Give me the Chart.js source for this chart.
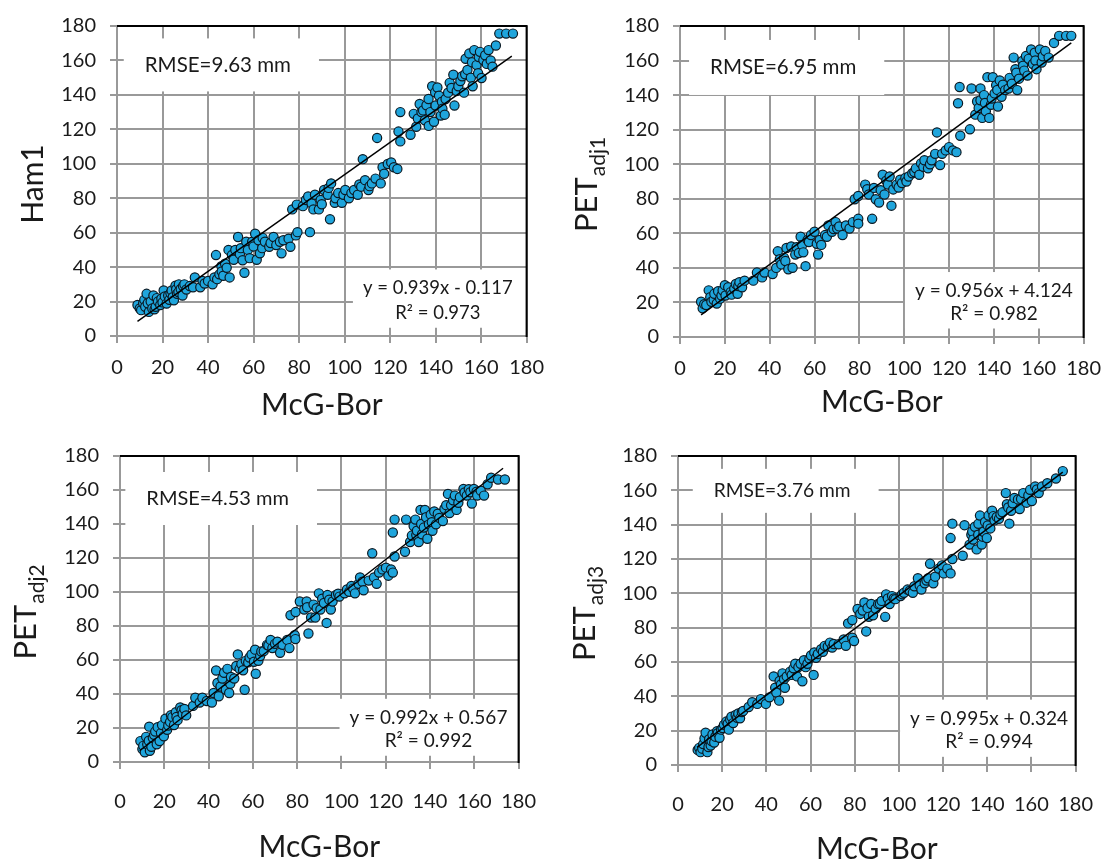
<!DOCTYPE html>
<html>
<head>
<meta charset="utf-8">
<script src="https://cdn.jsdelivr.net/npm/chart.js@4.4.1/dist/chart.umd.min.js"></script>
<style>
  body { margin: 0; background: #fff; }
  #wrap { position: relative; width: 1114px; height: 861px; overflow: hidden; }
  canvas { position: absolute; }
</style>
</head>
<body>
<div id="wrap">
  <canvas id="c1" width="557" height="430" style="left:0;top:0"></canvas>
  <canvas id="c2" width="557" height="430" style="left:557px;top:0"></canvas>
  <canvas id="c3" width="557" height="431" style="left:0;top:430px"></canvas>
  <canvas id="c4" width="557" height="431" style="left:557px;top:430px"></canvas>
</div>
<script>
// McG-Bor (x) vs. the four PET estimates (y)
var ham1Pts = [[9,18],[10,16],[10.6,15],[11.5,19],[12,21],[12.4,17],[13,24.5],[13.5,19],[14,14],[14.8,20],[15.5,16],[16,23.5],[16.5,15.5],[17,17],[17.5,22],[18,20],[19,18],[19.5,21.7],[20,19.5],[20.5,26.4],[21,23],[21.8,18.8],[22.5,23.5],[23,21],[23.5,24.8],[24,26.4],[24.5,22.5],[25,20.7],[25.7,29.2],[26,27],[26.4,24.5],[27,25.5],[27.2,30],[28,27.3],[28.8,23.5],[29,29],[29.6,30],[30.5,27],[32,29],
  [33.4,28.3],[34.2,34],[36.6,28.3],[37.6,32],[38.5,30.5],[40,32],[42,30],[42.8,34],[43.5,47],[44,33],[45,35.8],[45.9,40.5],[46,37.5],[46.7,35],[47.5,42],[48.2,39.6],[49,50],[49.5,34],[50.5,47],[51.3,44.3],[52,50],[53.2,57.5],[54,47.5],[54.4,51],[55.2,44],[56,36.7],[56.8,54.7],[57.5,50],[58.3,45.2],[59.4,54.7],[60,52],[60.7,59.4],[61.4,44.3],[62.2,55.6],[62.8,48],[63.8,51],[64,57],[65,54.7],[66.9,51.8],[67.5,54],[68.8,57.5],[70,52.8],[71.6,54.7],[72.3,48],[73.1,55.6],[75.4,56.5],[76.2,51.8],[78.6,58.4],[79.3,60.3],
  [77,73.5],[79,76.3],[81.7,75.4],[83,79],[84,81],[84.8,60.3],[85.5,77],[86.3,73.5],[87,82],[88.7,73.5],[89.5,79],[90,76.5],[91,84.8],[92.6,82],[93,86],[93.6,67.8],[94.1,88.6],[95.7,77.3],[96,80],[97.2,83],[98.8,77.3],[99.5,82],[100.3,84.8],[101.9,80],[103,83],[104.2,84.8],[105.8,82],[106.5,88],[107.3,86.7],[108,102.7],[109,90.5],[110.5,84.8],[111,87],[112,88.6],[113.6,91.4],[114.3,115],[115.9,88.6],[116.7,98],[117.4,94.2],[119,99.9],[120.5,100.8],[121.7,98],[123.2,97],[123.7,118.7],[124.5,113],[124.5,130],
  [129,116.8],[130.4,129],[131.5,121.5],[132.2,126.3],[133,134.7],[133.8,130],[134.5,131],[135.3,125.3],[136,134],[136.9,137.6],[137,122],[137.7,130],[138.5,145],[139.3,124.4],[139.8,141.5],[140,133.8],[140.8,144.3],[141.5,139.5],[142.3,128],[142.8,136],[143,132],[144,128.5],[144.4,137.6],[145.5,141.3],[146.2,147],[147,144],[147.8,151.7],[148.3,133.8],[149.3,142.3],[150,145],[150.9,148],[151.7,150.8],[152.5,141.3],[153,152],[153.2,161],[154,154.5],[154.8,164],[155.5,150],[156,159],[156.3,145],[157,166],[158,157.3],[158.7,152.6],[159,162],[159.5,165],[160.2,149.8],[161,160.2],[161.8,163],[162.5,158],[163.3,166],[164.2,160],[165,156.4],[166.5,168.7],[168,175.6],[171,175.6],[174,175.6]];

var adj1Pts = [[9.4,20.4],[10.1,16.6],[10.8,19],[11.7,18.5],[12.8,27],[13.5,23],[14,20.4],[15,21.5],[15.3,25],[16.4,19.4],[17,26.5],[17.9,22.2],[18.5,24],[19,27],[20,30],[20.3,24],[21.5,28.8],[22.6,26],[23,24.5],[24.2,27.9],[24.9,30.7],[25.7,25],[26,29.5],[26.5,31.7],[27.7,28.8],[28.8,32.6],
  [32.7,32.6],[34.3,37.3],[36.6,34.5],[37.7,37.3],[41.3,36.4],[42.9,40],[43.6,49.6],[44.5,45],[45.2,42],[46.4,45.8],[47,44],[47.5,51.5],[48.3,39.2],[49.6,52.4],[50.2,40.1],[51.4,47.7],[52,52],[53,48.6],[53.8,58],[54.5,53.3],[55,49],[56,41],[56.9,56.2],[57.5,55],[58.4,59],[60,60.9],[61,54],[61.6,47.7],[62.3,56.2],[63,53.3],[64.7,59],[65.5,58],[66.2,64.6],[67.8,60.9],[68.5,62.5],[69.4,66.5],[70.1,62.8],[71,64],[72.5,59],[74,64.6],[75.6,62.8],[77.1,66.5],[79.5,68.4],[79.5,65.6],
  [77.9,79.7],[79.5,81.6],[82.6,88.2],[83.5,85.5],[84.2,82.5],[85.7,68.4],[86.5,86.3],[87.3,79.7],[88.8,77.8],[89.5,85],[90.4,93.9],[91.2,82.5],[92,90.5],[92.7,88.2],[93.5,92.9],[94.3,76],[95.1,85.4],[96.6,88.2],[97.5,86.5],[98.2,91],[99,89.1],[100.5,92],[101,90],[102,92.9],[103.6,94.8],[104.5,95.5],[105.2,97.6],[106.7,93.9],[107.5,100.5],[108.5,98.5],[109,102.3],[110.6,97.6],[111.5,100],[112.2,102.3],[113.8,106],[114.6,118.4],[116,99.5],[116.9,106],[118.5,108],[120,109.9],[121.7,108],[123.3,107],[124,135.3],[124.7,144.7],[125,116.5],[129.3,120.2],[130,143.8],
  [131.7,128.7],[132.5,136.3],[133.2,132.5],[134,143.8],[134,137],[134.8,126.8],[135.6,140],[136,135.5],[136.4,130.6],[137.1,150.4],[137.9,126.8],[138.7,134.4],[139,138],[139.5,150.4],[140.3,141],[141,145.7],[141.5,143],[141.8,133.4],[142.6,148.5],[143.4,139],[144,146],[145,142.9],[146.5,143.8],[147,150],[148,146.6],[148.8,161.7],[149.6,155],[150,153],[150.4,142.9],[151.2,149.5],[152.7,159.8],[153,157],[153.5,154.2],[154.3,162.6],[155,151.3],[155.5,161],[156.6,166.4],[157.4,158],[158.2,164.5],[158.5,160],[159,155],[160.5,166.4],[161.3,158.9],[161.8,162.5],[162.9,165.5],[164.4,161.7],[166.8,170.2],[169.1,174.3],[172.2,174.3],[174.5,174.3]];

var adj2Pts = [[9.2,12.3],[10.1,7.6],[10.5,9.5],[11.2,5.7],[11.8,14.8],[12.3,10.4],[13,12.5],[13.2,20.8],[13.5,6.6],[14.2,9],[14.8,14.2],[15.4,16],[15.9,17.9],[16.6,10.4],[17,20.5],[17.9,12.3],[18.5,17],[19,21.7],[19.8,15.1],[20.5,25.5],[21.3,18.9],[21.8,21.5],[22.6,23.6],[23,27.5],[23.6,26.4],[24.4,21.7],[25.2,29.3],[25.5,26.5],[26,24.6],[27.2,32.1],[27.8,30.5],[28.3,28.3],[29.1,31.2],[29.9,27.4],
  [33,33],[34,37.8],[36,35],[37.2,37.8],[39.2,35.9],[41.5,35],[42.3,40.6],[43.4,53.8],[44,46.5],[44.6,38.7],[45.4,44.4],[46.2,49.1],[47,52.5],[47.8,42.5],[48.5,54.8],[49.3,40.6],[49.8,46],[50.1,50],[51.6,49.1],[52.5,56.5],[53.2,63.3],[54,54.8],[54.8,57.6],[55.6,54],[56.3,42.5],[56.8,59.5],[57.9,58.6],[58.5,61.5],[59.4,63.3],[60.5,59],[61,66.1],[61.3,51.9],[62.5,59.5],[63.3,62.3],[63.8,65],[64.9,65.2],[66.4,68.9],[67,68.5],[68,71.8],[68.8,67],[70,69.5],[71.1,70.8],[72.3,64.2],[73.4,68.9],[75.5,71.8],[76.5,67],[78.9,74.6],[79.2,72.3],[77,86.3],[79.3,88.2],
  [81.2,94.4],[83.2,89.7],[84.3,94.4],[84.5,91],[85.1,75.6],[86.3,85],[87.4,92.6],[88.2,85],[88.8,90.5],[89.8,99.2],[90.5,89.7],[91.3,96],[92.1,93.5],[93.3,81.8],[93.7,98.2],[94.5,95.5],[95.2,89.7],[96,94.4],[97.5,98.2],[98.5,99],[99.1,97.3],[101.4,99.2],[102.5,101.5],[103.5,100.1],[104.5,103.5],[105.3,102],[106.1,99.2],[107.7,104.8],[108.4,108.6],[109.5,106],[110,101],[112.3,106.7],[113.9,122.8],[114.7,108.6],[115.9,104.8],[117,111.4],[118.5,113.3],[120.1,114.3],[121.2,109.6],[122.4,113.3],[123.2,111.4],[123.2,135],[124,142.6],[124,120.9],[128.7,123.7],[129.2,142.6],
  [131,129.4],[131.8,133.2],[132.6,138.8],[133.4,142.6],[133.8,133.5],[134.1,136],[134.9,129.4],[135.7,148.3],[136,140],[136.4,134],[137.2,137.9],[137.7,148.3],[138.2,144],[138.8,131.3],[139.5,139.8],[140.3,145.5],[140.8,141],[141.1,136],[141.9,147.4],[142.7,139.8],[143.5,146],[144.2,143.6],[145.8,141.7],[146.5,149],[147.3,151.1],[148.1,157.7],[148.8,146.4],[149.5,151],[150.4,153.9],[151.2,156.7],[152,148.3],[152.8,152.5],[153.5,155.8],[155.1,160.6],[155.6,158.5],[156.6,156.7],[157.5,160.5],[158.2,158.7],[158.9,152],[159.8,160.6],[161,159],[161.3,156.7],[162.9,159.6],[164.4,156.7],[166,163.4],[167.6,167.2],[170.7,166.2],[173.8,166.2]];

var adj3Pts = [[8.9,8.8],[9.6,10],[10.2,7.5],[11,9.5],[11.4,12.2],[12,15.5],[12.5,18.8],[13.3,7.5],[13.8,10.5],[14.1,15],[14.8,11.3],[15.2,14],[15.6,17.8],[16.4,13.1],[16.9,16.5],[17.7,19.7],[18,18.5],[18.8,15.9],[19.5,20.6],[20.2,21.5],[20.8,23.4],[21.9,25.3],[22.5,24],[23,20.6],[23.6,26.5],[24.2,28.1],[25,24.4],[26.1,29.1],[26.8,27.5],[27.3,30],[28.1,27.2],[28.9,30.9],[29.5,31.5],
  [32,33.8],[33.6,36.6],[35.9,35.6],[37.5,38.4],[39.8,35.6],[41.4,39.4],[43.3,51.6],[44,45],[44.5,42.2],[45.8,37.5],[46,49],[46.6,46.9],[47.3,53.4],[48,50],[48.4,45],[49.2,51.6],[50.8,54.4],[51.5,52.5],[52.3,56.3],[53.1,59],[53.9,51.6],[54.5,57],[55.5,59],[56.3,48.8],[57,61],[57.8,57],[58.6,59],[59.5,62],[60.2,63.8],[61.4,52.5],[61.7,65.6],[62.5,62.5],[63.3,64.7],[64.8,67.5],[65.6,66],[66.4,69.4],[67.8,69],[68.8,71.3],[69.8,68.4],[70.5,70.5],[72.7,70.3],[75,73.1],[76,69.4],[77,82.5],[78.9,84.4],[78.9,74.1],[79.7,72.2],
  [81.3,90.9],[82.5,88],[83.6,90],[84.4,94.7],[85.2,77.8],[85.8,91.5],[86.4,86.3],[87.5,93.8],[88.3,87.2],[89.5,91],[90.6,93.8],[91.4,94],[92.2,95.6],[93.8,86.3],[94.2,99.4],[95,97],[95.8,93.8],[96.9,98.4],[97.7,97],[98.4,96.6],[100.8,98.4],[101.5,99.5],[102.3,100.3],[103.9,102.2],[105,101.5],[106.3,100.3],[107,104.1],[108.6,108.8],[109.4,104.5],[110.2,102.2],[111.7,105.9],[112.5,107.5],[113.3,108.8],[114.1,117.2],[115.6,105.9],[116.4,109.7],[118,114.4],[119.5,116.3],[120.3,111.6],[121.9,114.4],[123.4,111.6],[123.4,132.2],[124.2,140.6],[124.2,120],[128.9,121.9],[129.7,139.7],
  [132,128.4],[132.8,134.1],[133.2,136],[133.6,131.3],[134.4,138.8],[135.2,125.6],[135.9,134.1],[136,140.5],[136.7,145.3],[137.5,128.4],[137.9,133],[138.3,135.9],[139,141.6],[139.8,132.2],[140.2,139.5],[140.6,145.3],[141.4,137.8],[142.2,148.1],[142.8,145],[143.3,142.5],[144.3,144.5],[145.3,143.4],[146,146],[146.9,147.2],[148.4,158.4],[148.9,151.9],[149.5,150],[150,140.6],[150.8,148.1],[151.5,152.5],[152.3,155.6],[153.9,154.7],[154.7,149.1],[155.3,155],[156.3,158.4],[157.8,152.8],[158.6,157],[159.4,160.3],[160.2,153.8],[161.7,162.2],[162.5,160.5],[163.3,158.4],[164.8,162.2],[167.2,164.1],[171.1,166.9],[174.2,171.2]];

// trendline end points (x, y) as drawn
var ham1Trend = [[9, 8.5], [173.5, 162.5]];
var adj1Trend = [[9.4, 12.8], [174.5, 170.2]];
var adj2Trend = [[8.9, 6.6], [173, 172.8]];
var adj3Trend = [[8.6, 10.3], [174.2, 170.6]];

var axisTicks = [0, 20, 40, 60, 80, 100, 120, 140, 160, 180];

var GRID = '#999999';
var TXT = '#1a1a1a';

var panels = [
  { id: 'c1', pts: ham1Pts, trend: ham1Trend, yTitle: 'Ham1', ySub: '', yFont: 30,
    rmse: 'RMSE=9.63 mm', eq: ['y = 0.939x - 0.117', 'R² = 0.973'],
    padTop: 17, padRight: 26, yW: 117, xH: 94, xPad: 13,
    yTitleX: 43, xTitleY: 415, rmseAt: [12.2, 157.4], rmseSize: 20.5, eqSize: 18.5, rmseBoxH: 53, eqAt: [141, 27.6, 13.5] },
  { id: 'c2', pts: adj1Pts, trend: adj1Trend, yTitle: 'PET', ySub: 'adj1', yFont: 31,
    rmse: 'RMSE=6.95 mm', eq: ['y = 0.956x + 4.124', 'R² = 0.982'],
    padTop: 18, padRight: 20, yW: 123, xH: 93, xPad: 13,
    yTitleX: 40, xTitleY: 412, rmseAt: [13.4, 156], rmseSize: 20.5, eqSize: 19, rmseBoxH: 55, eqAt: [140, 26.6, 13.6] },
  { id: 'c3', pts: adj2Pts, trend: adj2Trend, yTitle: 'PET', ySub: 'adj2', yFont: 31,
    rmse: 'RMSE=4.53 mm', eq: ['y = 0.992x + 0.567', 'R² = 0.992'],
    padTop: 14, padRight: 22, yW: 120, xH: 99, xPad: 21,
    yTitleX: 36, xTitleY: 427, rmseAt: [11.9, 155], rmseSize: 20, eqSize: 19, rmseBoxH: 53, eqAt: [139.3, 26, 12.5] },
  { id: 'c4', pts: adj3Pts, trend: adj3Trend, yTitle: 'PET', ySub: 'adj3', yFont: 31,
    rmse: 'RMSE=3.76 mm', eq: ['y = 0.995x + 0.324', 'R² = 0.994'],
    padTop: 15, padRight: 25, yW: 121, xH: 96, xPad: 21,
    yTitleX: 38, xTitleY: 429, rmseAt: [16.2, 159.7], rmseSize: 19.2, eqSize: 19, rmseBoxH: 44, eqAt: [140.8, 27, 13.5] }
];

// text boxes, black top/right frame and axis titles
var deco = {
  id: 'deco',
  beforeDatasetsDraw: function(chart, args, o) {
    var ctx = chart.ctx, a = chart.chartArea;
    var sx = chart.scales.x, sy = chart.scales.y;
    ctx.save();

    // white boxes behind the labels
    ctx.fillStyle = '#fff';
    ctx.font = o.rmseSize + 'px Lato';
    var rx = sx.getPixelForValue(o.rmseAt[0]), ry = sy.getPixelForValue(o.rmseAt[1]);
    var rw = ctx.measureText(o.rmse).width;
    ctx.fillRect(rx - 21, ry - o.rmseBoxH / 2, rw + 49, o.rmseBoxH);
    ctx.font = o.eqSize + 'px Lato';
    var ex = sx.getPixelForValue(o.eqAt[0]);
    var e1 = sy.getPixelForValue(o.eqAt[1]), e2 = sy.getPixelForValue(o.eqAt[2]);
    var ew = ctx.measureText(o.eq[0]).width;
    var bl = ex - ew / 2 - 10;
    ctx.fillRect(bl, e1 - 19, a.right - bl, e2 - e1 + 34);

    ctx.fillStyle = TXT;
    ctx.textBaseline = 'middle';
    ctx.textAlign = 'left';
    ctx.font = o.rmseSize + 'px Lato';
    ctx.fillText(o.rmse, rx, ry);
    ctx.textAlign = 'center';
    ctx.font = o.eqSize + 'px Lato';
    ctx.fillText(o.eq[0], ex, e1);
    ctx.fillText(o.eq[1], ex, e2);

    ctx.strokeStyle = '#000';
    ctx.lineWidth = 2;
    ctx.beginPath();
    ctx.moveTo(a.left, a.top);
    ctx.lineTo(a.right, a.top);
    ctx.lineTo(a.right, a.bottom + 1);
    ctx.stroke();

    // x title
    ctx.textBaseline = 'alphabetic';
    ctx.font = '30px Lato';
    ctx.fillText('McG-Bor', (a.left + a.right) / 2, o.xTitleY);

    // y title, with subscript
    ctx.translate(o.yTitleX, (a.top + a.bottom) / 2 + 3);
    ctx.rotate(-Math.PI / 2);
    ctx.font = o.yFont + 'px Lato';
    var mw = ctx.measureText(o.yTitle).width;
    ctx.font = '21px Lato';
    var sw = o.ySub ? ctx.measureText(o.ySub).width + 1 : 0;
    var start = -(mw + sw) / 2;
    ctx.textAlign = 'left';
    ctx.font = o.yFont + 'px Lato';
    ctx.fillText(o.yTitle, start, 0);
    if (o.ySub) {
      ctx.font = '21px Lato';
      ctx.fillText(o.ySub, start + mw + 1, 8);
    }
    ctx.restore();
  }
};

Chart.defaults.font.family = 'Lato';
Chart.defaults.color = TXT;

panels.forEach(function(p) {
  var pts = p.pts.map(function(d) { return { x: d[0], y: d[1] }; });
  var line = p.trend.map(function(d) { return { x: d[0], y: d[1] }; });

  var axis = function(pad, fit) {
    return {
      type: 'linear',
      min: 0,
      max: 180,
      afterBuildTicks: function(s) { s.ticks = axisTicks.map(function(v) { return { value: v }; }); },
      ticks: { padding: pad, font: { size: 20 }, color: TXT, maxRotation: 0, autoSkip: false },
      grid: { color: GRID, lineWidth: 2, tickLength: 7, tickColor: GRID },
      border: { color: GRID, width: 2 },
      afterFit: fit
    };
  };

  new Chart(document.getElementById(p.id), {
    type: 'scatter',
    data: {
      datasets: [
        {
          type: 'line',
          data: line,
          borderColor: '#000',
          borderWidth: 1.4,
          pointRadius: 0,
          fill: false
        },
        {
          data: pts,
          backgroundColor: '#1fa5dc',
          borderColor: '#0b1a24',
          borderWidth: 1.2,
          pointRadius: 4.6
        }
      ]
    },
    options: {
      responsive: false,
      animation: false,
      devicePixelRatio: 1,
      layout: { padding: { top: p.padTop, right: p.padRight, left: 0, bottom: 0 } },
      plugins: {
        legend: { display: false },
        tooltip: { enabled: false },
        deco: p
      },
      scales: {
        x: axis(p.xPad, function(s) { s.height = p.xH; }),
        y: axis(14, function(s) { s.width = p.yW; })
      }
    },
    plugins: [deco]
  });
});
</script>
</body>
</html>
